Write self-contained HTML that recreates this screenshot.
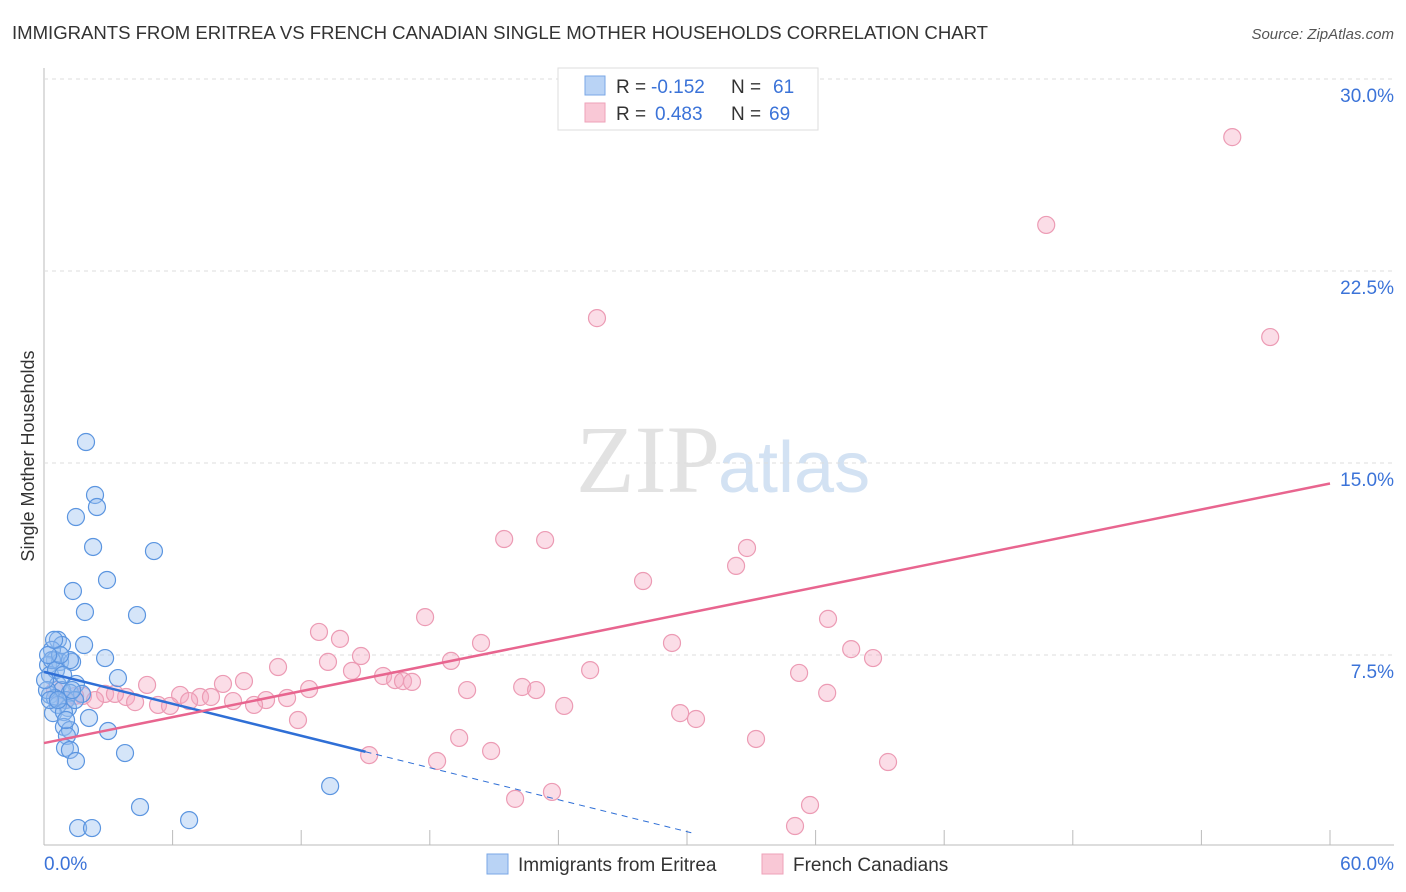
<!DOCTYPE html>
<html><head><meta charset="utf-8"><style>
body{margin:0;background:#fff;font-family:"Liberation Sans",sans-serif}
svg{display:block}
</style></head><body>
<svg id="c" width="1406" height="892">
<text x="12" y="39" font-size="18.6" fill="#333" textLength="976">IMMIGRANTS FROM ERITREA VS FRENCH CANADIAN SINGLE MOTHER HOUSEHOLDS CORRELATION CHART</text>
<text x="1394" y="39" font-size="15" fill="#555" font-style="italic" text-anchor="end">Source: ZipAtlas.com</text>
<text x="0" y="0" transform="translate(34,456) rotate(-90)" font-size="18" fill="#333" text-anchor="middle">Single Mother Households</text>
<text x="720" y="492" font-size="96" font-family="Liberation Serif,serif" fill="#e2e2e2" text-anchor="end">ZIP</text>
<text x="718" y="492" font-size="72" fill="#d3e2f3">atlas</text>
<g id="grid"></g><g id="pts"></g><g id="trend"></g>
<g>
<rect x="558" y="68" width="260" height="62" fill="#fff" stroke="#ddd"/>
<rect x="585" y="76" width="20" height="19" fill="#b9d3f5" stroke="#7aa7e6"/>
<rect x="585" y="103" width="20" height="19" fill="#f9c8d6" stroke="#eea2b8"/>
<text x="616" y="93" font-size="19" fill="#333">R =</text>
<text x="651" y="93" font-size="19" fill="#3b73d8">-0.152</text>
<text x="731" y="93" font-size="19" fill="#333">N =</text>
<text x="773" y="93" font-size="19" fill="#3b73d8">61</text>
<text x="616" y="120" font-size="19" fill="#333">R =</text>
<text x="655" y="120" font-size="19" fill="#3b73d8">0.483</text>
<text x="731" y="120" font-size="19" fill="#333">N =</text>
<text x="769" y="120" font-size="19" fill="#3b73d8">69</text>
</g>
<g>
<rect x="487" y="854" width="21" height="20" fill="#b9d3f5" stroke="#7aa7e6"/>
<text x="518" y="871" font-size="19" fill="#333">Immigrants from Eritrea</text>
<rect x="762" y="854" width="21" height="20" fill="#f9c8d6" stroke="#eea2b8"/>
<text x="793" y="871" font-size="19" fill="#333">French Canadians</text>
</g>
<text x="44" y="870" font-size="19" fill="#3b73d8">0.0%</text>
<text x="1394" y="870" font-size="19" fill="#3b73d8" text-anchor="end">60.0%</text>
</svg>
<script>
const yTicks=[7.5,15,22.5,30];
const yTickLabels=["7.5%","15.0%","22.5%","30.0%"];
const xTicks=[0,6,12,18,24,30,36,42,48,54,60];
const blueX=[1.96,2.38,2.47,1.49,2.29,5.13,2.94,1.35,1.91,4.34,0.65,0.84,1.87,0.37,0.51,0.19,0.75,1.31,1.21,2.85,0.28,3.45,0.65,1.49,0.84,1.21,0.28,0.51,1.77,1.03,1.12,0.65,0.42,0.93,2.10,0.93,1.21,2.99,1.07,0.98,1.21,3.78,1.49,4.48,13.35,6.77,1.59,2.24,0.37,0.14,0.56,0.75,0.89,0.28,1.45,1.03,0.05,0.19,0.47,1.31,0.65];
const blueY=[15.82,13.75,13.28,12.89,11.72,11.56,10.43,10.0,9.18,9.06,8.09,7.89,7.89,7.70,7.30,7.11,7.23,7.23,7.30,7.38,6.72,6.60,6.33,6.37,6.13,6.02,5.94,5.82,5.98,5.74,5.43,5.55,5.23,5.27,5.04,4.69,4.57,4.53,4.34,3.87,3.79,3.67,3.36,1.56,2.38,1.05,0.74,0.74,7.30,6.13,6.91,7.5,6.72,5.74,5.74,4.96,6.52,7.5,8.09,6.13,5.74];
const pinkX=[55.44,46.76,25.80,57.21,21.47,23.38,32.80,27.95,32.29,17.78,36.58,12.83,13.81,20.39,29.30,37.66,14.79,38.68,18.99,10.92,13.25,14.37,25.48,35.23,15.82,16.38,16.75,17.17,9.33,8.35,4.81,12.37,22.31,22.96,19.74,36.54,6.35,7.28,7.79,11.34,10.36,8.82,2.85,3.83,1.82,3.31,4.25,5.32,6.77,9.80,24.27,29.68,30.42,11.85,19.37,33.22,20.86,15.17,18.34,39.38,21.98,23.70,35.74,35.04,0.51,0.98,2.38,5.88,1.45];
const pinkY=[27.73,24.30,20.66,19.92,12.03,11.99,11.68,10.39,10.98,8.98,8.91,8.40,8.13,7.97,7.97,7.73,7.46,7.38,7.27,7.03,7.23,6.88,6.91,6.80,6.68,6.52,6.48,6.45,6.48,6.37,6.33,6.17,6.25,6.13,6.13,6.02,5.94,5.86,5.86,5.82,5.74,5.70,5.98,5.86,5.90,5.98,5.66,5.55,5.70,5.55,5.51,5.23,5.00,4.96,4.26,4.22,3.75,3.59,3.36,3.32,1.88,2.15,1.64,0.82,6.13,5.74,5.74,5.51,5.90];
const blueTrend=[6.84,-0.208], pinkTrend=[4.06,0.169];
const NS='http://www.w3.org/2000/svg';
const X=v=>44+v*1286/60, Y=v=>847-v*25.6;
function mk(tag,a,p){const e=document.createElementNS(NS,tag);for(const k in a)e.setAttribute(k,a[k]);p.appendChild(e);return e;}
const grid=document.getElementById('grid');
let ax=mk('line',{x1:44,y1:68,x2:44,y2:845,stroke:'#bbb'},grid);


let bx=mk('line',{x1:44,y1:845,x2:1394,y2:845,stroke:'#bbb'},grid);


yTicks.forEach((t,i)=>{
 const g=mk('line',{x1:44,y1:Y(t),x2:1394,y2:Y(t),stroke:'#ddd','stroke-dasharray':'4,4'},grid);
 
 
 const l=mk('text',{x:1394,y:Y(t)+23,'font-size':19,fill:'#3b73d8','text-anchor':'end'},grid);
 l.textContent=yTickLabels[i];
 
 
});
xTicks.forEach(t=>{
 const k=mk('line',{x1:X(t),y1:830,x2:X(t),y2:845,stroke:'#bbb'},grid);
 
 
});
const pts=document.getElementById('pts');
pinkX.forEach((x,i)=>{
 const c=mk('circle',{cx:X(x),cy:Y(pinkY[i]),r:8.5,fill:'rgba(246,170,195,0.4)',stroke:'#ec9bb4','stroke-width':1.2},pts);
 
 
});
blueX.forEach((x,i)=>{
 const c=mk('circle',{cx:X(x),cy:Y(blueY[i]),r:8.5,fill:'rgba(150,190,240,0.4)',stroke:'#5b95e0','stroke-width':1.2},pts);
 
 
});
const tr=document.getElementById('trend');
const bt=v=>blueTrend[0]+blueTrend[1]*v, pt=v=>pinkTrend[0]+pinkTrend[1]*v;
let l1=mk('line',{x1:X(0),y1:Y(bt(0)),x2:X(15),y2:Y(bt(15)),stroke:'#2f6fd6','stroke-width':2.5},tr);


let l2=mk('line',{x1:X(15),y1:Y(bt(15)),x2:X(30.2),y2:Y(bt(30.2)),stroke:'#2f6fd6','stroke-width':1,'stroke-dasharray':'6,5'},tr);


let l3=mk('line',{x1:X(0),y1:Y(pt(0)),x2:X(60),y2:Y(pt(60)),stroke:'#e8658f','stroke-width':2.5},tr);


</script>
</body></html>
